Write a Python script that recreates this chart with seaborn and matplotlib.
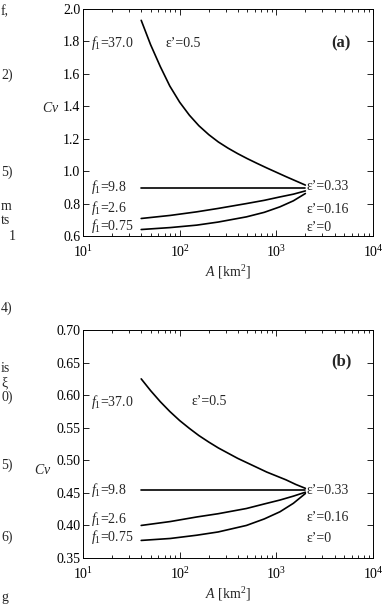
import numpy as np
import pandas as pd
import matplotlib
matplotlib.use('Agg')
import matplotlib.pyplot as plt
import seaborn as sns
from matplotlib.ticker import LogLocator, MultipleLocator, NullFormatter

# --- data ---
# panel (a)
a_top_A = [40, 50, 63, 79, 100, 126, 158, 200, 251, 316, 398, 501, 631, 794, 1000, 1259, 1585, 1995]
a_top_cv = [1.93, 1.78, 1.645, 1.525, 1.425, 1.345, 1.28, 1.225, 1.18, 1.142, 1.108,
            1.077, 1.048, 1.02, 0.993, 0.966, 0.94, 0.914]
a_98_A = [40, 1995]
a_98_cv = [0.895, 0.895]
a_26_A = [40, 80, 150, 250, 490, 750, 1090, 1500, 1995]
a_26_cv = [0.708, 0.727, 0.749, 0.77, 0.80, 0.82, 0.841, 0.858, 0.878]
a_075_A = [40, 80, 150, 250, 490, 750, 1090, 1500, 1995]
a_075_cv = [0.640, 0.652, 0.667, 0.686, 0.718, 0.746, 0.780, 0.817, 0.862]

# panel (b)
b_top_A = [40, 50, 63, 79, 100, 126, 158, 200, 251, 316, 398, 501, 631, 794, 1000, 1259, 1585, 1995]
b_top_cv = [0.625, 0.607, 0.590, 0.575, 0.561, 0.549, 0.538, 0.528, 0.519, 0.511, 0.503,
            0.496, 0.489, 0.482, 0.476, 0.470, 0.463, 0.457]
b_98_A = [40, 1995]
b_98_cv = [0.455, 0.455]
b_26_A = [40, 80, 150, 250, 490, 750, 1090, 1500, 1995]
b_26_cv = [0.400, 0.406, 0.413, 0.418, 0.426, 0.433, 0.439, 0.445, 0.451]
b_075_A = [40, 80, 150, 250, 490, 750, 1090, 1500, 1995]
b_075_cv = [0.377, 0.380, 0.385, 0.390, 0.400, 0.410, 0.421, 0.434, 0.449]

f1_labels = ['37.0', '9.8', '2.6', '0.75']
eps_labels = ['0.5', '0.33', '0.16', '0']

sns.set_style('ticks')
plt.rcParams['font.family'] = ['Liberation Serif', 'DejaVu Serif']
plt.rcParams['mathtext.fontset'] = 'custom'
plt.rcParams['mathtext.rm'] = 'Liberation Serif'
plt.rcParams['mathtext.it'] = 'Liberation Serif:italic'
plt.rcParams['mathtext.bf'] = 'Liberation Serif:bold'

fig = plt.figure(figsize=(3.82, 6.07), dpi=100)
ax_a = fig.add_axes([0.2173, 0.6112, 0.7592, 0.3740])
ax_b = fig.add_axes([0.2173, 0.0807, 0.7592, 0.3756])


def draw_panel(ax, curves, ylim, ystep, f1_pos, eps_pos, tag, tag_y, ylab_xy):
    for A, cv in curves:
        sns.lineplot(x=A, y=cv, ax=ax, color='black', linewidth=1.2, sort=False)
    ax.set_xscale('log')
    ax.set_xlim(10, 1e4)
    ax.set_ylim(*ylim)
    ax.yaxis.set_major_locator(MultipleLocator(ystep))
    ax.xaxis.set_major_locator(LogLocator(base=10, numticks=10))
    ax.xaxis.set_minor_locator(LogLocator(base=10, subs=np.arange(2, 10), numticks=10))
    ax.xaxis.set_minor_formatter(NullFormatter())
    ax.tick_params(which='both', direction='in', top=True, right=True,
                   labelsize=10, width=0.6, colors='black')
    ax.tick_params(which='major', length=4)
    ax.tick_params(which='minor', length=2)
    ax.tick_params(axis='x', pad=6)
    ax.tick_params(axis='y', pad=2)
    for s in ax.spines.values():
        s.set_linewidth(0.7)
        s.set_color('black')
    ax.set_xlabel(r'$\it{A}$ [km$^2$]', fontsize=10, labelpad=2)
    ax.set_ylabel(r'$\it{Cv}$', fontsize=10, rotation=0)
    ax.yaxis.set_label_coords(*ylab_xy)
    for lab, (x, y) in zip(f1_labels, f1_pos):
        ax.text(x, y, r'$f_1$=' + lab, fontsize=10, ha='left', va='center')
    for lab, (x, y) in zip(eps_labels, eps_pos):
        ax.text(x, y, '\u03b5\u2019=' + lab, fontsize=10, ha='left', va='center')
    ax.text(0.89, tag_y, tag, transform=ax.transAxes, fontsize=12,
            fontweight='bold', ha='center', va='center')


draw_panel(ax_a,
           [(a_top_A, a_top_cv), (a_98_A, a_98_cv), (a_26_A, a_26_cv), (a_075_A, a_075_cv)],
           (0.6, 2.0), 0.2,
           [(12.0, 1.79), (12.0, 0.90), (12.0, 0.77), (12.0, 0.66)],
           [(70.5, 1.79), (2055, 0.903), (2055, 0.765), (2055, 0.654)],
           '(a)', 0.85, (-0.11, 0.533))

draw_panel(ax_b,
           [(b_top_A, b_top_cv), (b_98_A, b_98_cv), (b_26_A, b_26_cv), (b_075_A, b_075_cv)],
           (0.35, 0.7), 0.05,
           [(12.0, 0.590), (12.0, 0.454), (12.0, 0.4095), (12.0, 0.382)],
           [(133, 0.590), (2055, 0.454), (2055, 0.4125), (2055, 0.380)],
           '(b)', 0.864, (-0.14, 0.355))

# fragments of the neighbouring page column at the left edge
margin_text = ['f,', '2)', '5)', 'm', 'ts', '1', '4)', 'is', '\u03be',
               '0)', '5)', '6)', 'g']
margin_x = [0, 0, 0, 0, 0, 8, 0, 0, 0, 0, 0, 0, 0]
margin_y = [12, 75, 172, 206, 221, 237, 308, 368, 383, 397, 465, 537, 598]
for t, x, y in zip(margin_text, margin_x, margin_y):
    fig.text((x + 1) / 382, 1 - y / 607, t, fontsize=10, ha='left', va='center')

fig.savefig('out.png', dpi=100)
